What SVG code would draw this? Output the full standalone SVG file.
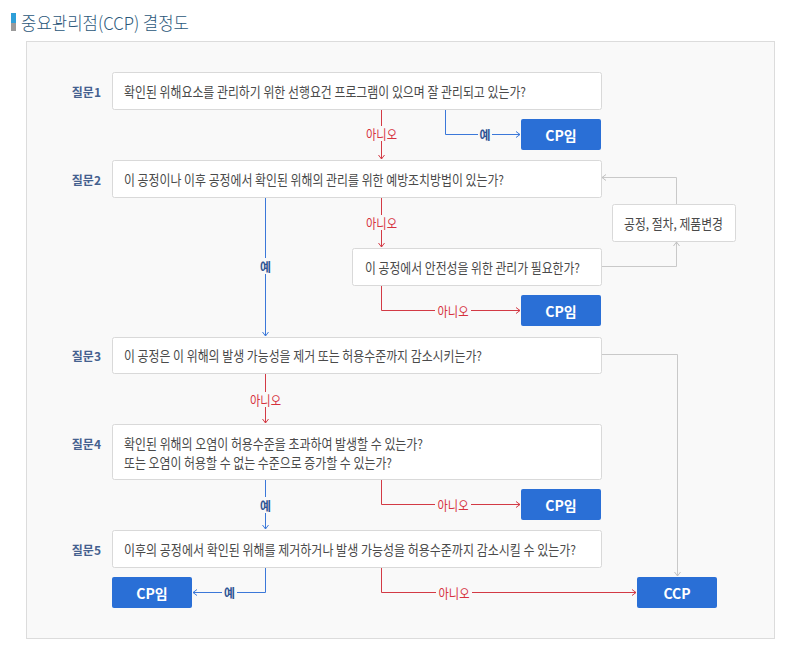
<svg xmlns="http://www.w3.org/2000/svg" width="790" height="655" viewBox="0 0 790 655">
<defs>
<style>
text{font-family:"Noto Sans CJK KR","Noto Sans",sans-serif;}
.q{fill:#fff;stroke:#d9d9d9;stroke-width:1}
.qt{font-size:13.5px;fill:#4a4a4a;dominant-baseline:central}
.ql{font-size:12px;fill:#45618f;font-weight:bold;dominant-baseline:central;text-anchor:end}
.cp{fill:#2a6fd6}
.cpt{font-size:14px;fill:#fff;font-weight:bold;text-anchor:middle;dominant-baseline:central}
.lr{fill:none;stroke:#d33a45;stroke-width:1}
.lb{fill:none;stroke:#3b78d9;stroke-width:1}
.lg{fill:none;stroke:#c9c9c9;stroke-width:1}
.no{font-size:13px;fill:#d6323e;text-anchor:middle;dominant-baseline:central}
.yes{font-size:12px;fill:#2f5494;font-weight:bold;text-anchor:middle;dominant-baseline:central}
.bg{fill:#f9f9f9}
</style>
<marker id="ar" viewBox="0 0 8 8" refX="7" refY="4" markerWidth="8" markerHeight="8" markerUnits="userSpaceOnUse" orient="auto"><path d="M3,1 L7,4 L3,7" fill="none" stroke="#d33a45" stroke-width="1"/></marker>
<marker id="ab" viewBox="0 0 8 8" refX="7" refY="4" markerWidth="8" markerHeight="8" markerUnits="userSpaceOnUse" orient="auto"><path d="M3,1 L7,4 L3,7" fill="none" stroke="#3b78d9" stroke-width="1"/></marker>
<marker id="ag" viewBox="0 0 8 8" refX="7" refY="4" markerWidth="8" markerHeight="8" markerUnits="userSpaceOnUse" orient="auto"><path d="M3,1 L7,4 L3,7" fill="none" stroke="#c0c0c0" stroke-width="1"/></marker>
</defs>

<g id="title">
<rect x="11" y="13" width="5" height="10" fill="#2e9fd8"/>
<rect x="11" y="23" width="5" height="8" fill="#9a9a9a"/>
<text x="21" y="22" font-size="18" font-weight="300" fill="#2b5779" dominant-baseline="central" textLength="168" lengthAdjust="spacingAndGlyphs">중요관리점(CCP) 결정도</text>
</g>

<rect id="panel" x="26.5" y="41.5" width="748" height="597" fill="#f9f9f9" stroke="#dcdcdc"/>

<g id="connectors">
<!-- Q1 -->
<path class="lr" d="M381.5,109.5 V159" marker-end="url(#ar)"/>
<rect class="bg" x="364" y="126" width="35" height="15"/>
<text class="no" x="381.5" y="133" textLength="31" lengthAdjust="spacingAndGlyphs">아니오</text>
<path class="lb" d="M445.5,109.5 V134.5 H520" marker-end="url(#ab)"/>
<rect class="bg" x="478" y="127" width="14" height="15"/>
<text class="yes" x="485" y="134">예</text>
<!-- Q2 -->
<path class="lr" d="M381.5,197.5 V247" marker-end="url(#ar)"/>
<rect class="bg" x="364" y="215" width="35" height="15"/>
<text class="no" x="381.5" y="222.5" textLength="31" lengthAdjust="spacingAndGlyphs">아니오</text>
<path class="lb" d="M265.5,197.5 V336" marker-end="url(#ab)"/>
<rect class="bg" x="258" y="258" width="15" height="16"/>
<text class="yes" x="265.5" y="266">예</text>
<!-- Sub -->
<path class="lr" d="M381.5,285.5 V310.5 H520" marker-end="url(#ar)"/>
<rect class="bg" x="435" y="303" width="36" height="15"/>
<text class="no" x="453" y="310.5" textLength="31" lengthAdjust="spacingAndGlyphs">아니오</text>
<path class="lg" d="M601.5,266.5 H676.5 V242" marker-end="url(#ag)"/>
<path class="lg" d="M676.5,204 V177.5 H602" marker-end="url(#ag)"/>
<!-- Q3 -->
<path class="lg" d="M601.5,354.5 H677.5 V576" marker-end="url(#ag)"/>
<path class="lr" d="M265.5,373.5 V423" marker-end="url(#ar)"/>
<rect class="bg" x="248" y="392" width="35" height="15"/>
<text class="no" x="265.5" y="399.5" textLength="31" lengthAdjust="spacingAndGlyphs">아니오</text>
<!-- Q4 -->
<path class="lb" d="M265.5,479.5 V529" marker-end="url(#ab)"/>
<rect class="bg" x="258" y="497" width="15" height="16"/>
<text class="yes" x="265.5" y="505">예</text>
<path class="lr" d="M381.5,479.5 V504.5 H520" marker-end="url(#ar)"/>
<rect class="bg" x="435" y="497" width="36" height="15"/>
<text class="no" x="453" y="504.5" textLength="31" lengthAdjust="spacingAndGlyphs">아니오</text>
<!-- Q5 -->
<path class="lb" d="M265.5,567.5 V592.5 H193" marker-end="url(#ab)"/>
<rect class="bg" x="222" y="585" width="15" height="15"/>
<text class="yes" x="229.5" y="592.5">예</text>
<path class="lr" d="M381.5,567.5 V592.5 H636" marker-end="url(#ar)"/>
<rect class="bg" x="436" y="585" width="36" height="15"/>
<text class="no" x="454" y="592.5" textLength="31" lengthAdjust="spacingAndGlyphs">아니오</text>
</g>

<g id="q1">
<text class="ql" x="101" y="91">질문1</text>
<rect class="q" x="112.5" y="72.5" width="489" height="37" rx="2"/>
<text class="qt" x="124" y="91" textLength="402" lengthAdjust="spacingAndGlyphs">확인된 위해요소를 관리하기 위한 선행요건 프로그램이 있으며 잘 관리되고 있는가?</text>
</g>
<g id="cp1">
<rect class="cp" x="521" y="119" width="80" height="31" rx="2"/>
<text class="cpt" x="561" y="134.5">CP임</text>
</g>

<g id="q2">
<text class="ql" x="101" y="179">질문2</text>
<rect class="q" x="112.5" y="160.5" width="489" height="37" rx="2"/>
<text class="qt" x="124" y="179" textLength="380" lengthAdjust="spacingAndGlyphs">이 공정이나 이후 공정에서 확인된 위해의 관리를 위한 예방조치방법이 있는가?</text>
</g>

<g id="sub">
<rect class="q" x="352.5" y="248.5" width="249" height="37" rx="2"/>
<text class="qt" x="365" y="267" textLength="215" lengthAdjust="spacingAndGlyphs">이 공정에서 안전성을 위한 관리가 필요한가?</text>
</g>
<g id="cp2">
<rect class="cp" x="521" y="295" width="80" height="31" rx="2"/>
<text class="cpt" x="561" y="310.5">CP임</text>
</g>

<g id="change">
<rect class="q" x="612.5" y="204.5" width="123" height="37" rx="2"/>
<text class="qt" x="624" y="223" textLength="99" lengthAdjust="spacingAndGlyphs">공정, 절차, 제품변경</text>
</g>

<g id="q3">
<text class="ql" x="101" y="355">질문3</text>
<rect class="q" x="112.5" y="337.5" width="489" height="36" rx="2"/>
<text class="qt" x="124" y="355" textLength="358" lengthAdjust="spacingAndGlyphs">이 공정은 이 위해의 발생 가능성을 제거 또는 허용수준까지 감소시키는가?</text>
</g>

<g id="q4">
<text class="ql" x="101" y="443">질문4</text>
<rect class="q" x="112.5" y="424.5" width="489" height="55" rx="2"/>
<text class="qt" x="124" y="443" textLength="299" lengthAdjust="spacingAndGlyphs">확인된 위해의 오염이 허용수준을 초과하여 발생할 수 있는가?</text>
<text class="qt" x="124" y="462" textLength="268" lengthAdjust="spacingAndGlyphs">또는 오염이 허용할 수 없는 수준으로 증가할 수 있는가?</text>
</g>
<g id="cp3">
<rect class="cp" x="521" y="489" width="80" height="31" rx="2"/>
<text class="cpt" x="561" y="504.5">CP임</text>
</g>

<g id="q5">
<text class="ql" x="101" y="549">질문5</text>
<rect class="q" x="112.5" y="530.5" width="489" height="37" rx="2"/>
<text class="qt" x="124" y="549" textLength="452" lengthAdjust="spacingAndGlyphs">이후의 공정에서 확인된 위해를 제거하거나 발생 가능성을 허용수준까지 감소시킬 수 있는가?</text>
</g>
<g id="cp4">
<rect class="cp" x="112" y="577" width="80" height="31" rx="2"/>
<text class="cpt" x="152" y="592.5">CP임</text>
</g>
<g id="ccp">
<rect class="cp" x="637" y="577" width="80" height="31" rx="2"/>
<text class="cpt" x="677" y="592.5">CCP</text>
</g>
</svg>
